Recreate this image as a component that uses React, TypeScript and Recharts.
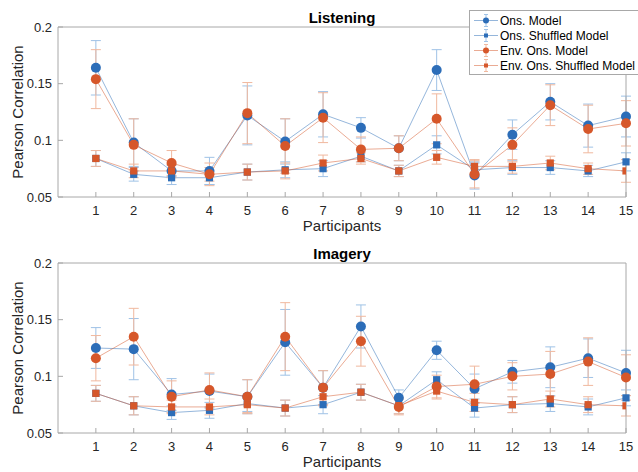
import React from 'react'
import { LineChart, Line, XAxis, YAxis, ErrorBar } from 'recharts'

// participants on the x axis
const participants = [1, 2, 3, 4, 5, 6, 7, 8, 9, 10, 11, 12, 13, 14, 15]
const yTicks = [0.05, 0.1, 0.15, 0.2]

const seriesNames = [
  'Ons. Model',
  'Ons. Shuffled Model',
  'Env. Ons. Model',
  'Env. Ons. Shuffled Model',
]

// Listening panel
const lisOns = [0.164, 0.098, 0.073, 0.073, 0.122, 0.099, 0.123, 0.111, 0.093, 0.162, 0.069, 0.105, 0.134, 0.113, 0.121]
const lisOnsErr = [0.024, 0.021, 0.005, 0.012, 0.026, 0.02, 0.02, 0.009, 0.011, 0.018, 0.012, 0.013, 0.016, 0.019, 0.018]
const lisOnsShuf = [0.084, 0.07, 0.067, 0.067, 0.072, 0.074, 0.075, 0.086, 0.073, 0.096, 0.074, 0.076, 0.076, 0.073, 0.081]
const lisOnsShufErr = [0.007, 0.006, 0.006, 0.006, 0.007, 0.007, 0.007, 0.005, 0.005, 0.008, 0.006, 0.006, 0.006, 0.005, 0.008]
const lisEnv = [0.154, 0.096, 0.08, 0.07, 0.124, 0.095, 0.12, 0.092, 0.093, 0.119, 0.07, 0.096, 0.131, 0.11, 0.115]
const lisEnvErr = [0.026, 0.023, 0.011, 0.01, 0.027, 0.024, 0.022, 0.011, 0.011, 0.022, 0.012, 0.015, 0.018, 0.021, 0.02]
const lisEnvShuf = [0.084, 0.073, 0.073, 0.07, 0.072, 0.073, 0.08, 0.084, 0.073, 0.085, 0.077, 0.077, 0.08, 0.075, 0.073]
const lisEnvShufErr = [0.007, 0.006, 0.006, 0.006, 0.007, 0.007, 0.007, 0.005, 0.005, 0.006, 0.006, 0.006, 0.006, 0.005, 0.01]

// Imagery panel
const imgOns = [0.125, 0.124, 0.084, 0.087, 0.082, 0.13, 0.09, 0.144, 0.081, 0.123, 0.089, 0.104, 0.108, 0.116, 0.103]
const imgOnsErr = [0.018, 0.027, 0.014, 0.015, 0.015, 0.029, 0.015, 0.019, 0.007, 0.008, 0.013, 0.01, 0.018, 0.017, 0.02]
const imgOnsShuf = [0.085, 0.074, 0.068, 0.07, 0.076, 0.072, 0.075, 0.086, 0.074, 0.097, 0.072, 0.075, 0.076, 0.073, 0.081]
const imgOnsShufErr = [0.007, 0.008, 0.006, 0.007, 0.007, 0.007, 0.008, 0.007, 0.007, 0.007, 0.008, 0.007, 0.007, 0.007, 0.007]
const imgEnv = [0.116, 0.135, 0.082, 0.088, 0.082, 0.135, 0.09, 0.131, 0.073, 0.091, 0.093, 0.1, 0.102, 0.113, 0.099]
const imgEnvErr = [0.02, 0.025, 0.014, 0.015, 0.015, 0.03, 0.015, 0.022, 0.007, 0.01, 0.016, 0.012, 0.02, 0.021, 0.02]
const imgEnvShuf = [0.085, 0.074, 0.073, 0.073, 0.075, 0.072, 0.082, 0.086, 0.074, 0.087, 0.077, 0.075, 0.08, 0.075, 0.074]
const imgEnvShufErr = [0.007, 0.008, 0.006, 0.007, 0.007, 0.007, 0.008, 0.007, 0.007, 0.007, 0.008, 0.007, 0.007, 0.007, 0.009]

const BLUE = '#2c6db8'
const ORANGE = '#d6572a'
const BLUE_LIGHT = '#9fc2e6'
const ORANGE_LIGHT = '#f0b89e'
const AXIS = '#a8a8a8'
const TEXT = '#262626'
const FONT = '"Liberation Sans", Arial, Helvetica, sans-serif'

const buildData = (
  ons: number[], onsE: number[], onsS: number[], onsSE: number[],
  env: number[], envE: number[], envS: number[], envSE: number[]
) =>
  participants.map((p, i) => ({
    p,
    ons: ons[i], onsE: onsE[i],
    onsS: onsS[i], onsSE: onsSE[i],
    env: env[i], envE: envE[i],
    envS: envS[i], envSE: envSE[i],
  }))

const listeningData = buildData(lisOns, lisOnsErr, lisOnsShuf, lisOnsShufErr, lisEnv, lisEnvErr, lisEnvShuf, lisEnvShufErr)
const imageryData = buildData(imgOns, imgOnsErr, imgOnsShuf, imgOnsShufErr, imgEnv, imgEnvErr, imgEnvShuf, imgEnvShufErr)

const circleDot = (color: string) => (props: any) => (
  <circle key={`c-${props.index}`} cx={props.cx} cy={props.cy} r={5} fill={color} />
)
const squareDot = (color: string) => (props: any) => (
  <rect key={`s-${props.index}`} x={props.cx - 3.6} y={props.cy - 3.6} width={7.2} height={7.2} fill={color} />
)

const W = 638
const H = 236

const Panel = ({ data }: { data: any[] }) => (
  <LineChart width={W} height={H} data={data} margin={{ top: 26, right: 11, bottom: 0, left: 0 }}>
    <XAxis
      dataKey="p"
      type="number"
      domain={[0, 15]}
      ticks={participants}
      interval={0}
      height={39}
      axisLine={{ stroke: AXIS }}
      tickLine={{ stroke: AXIS }}
      tickSize={-5}
      tickMargin={14}
      tick={{ fill: TEXT, fontSize: 13 }}
      label={{ value: 'Participants', position: 'insideBottom', offset: 5, fill: TEXT, fontSize: 15 }}
    />
    {/* box: top and right axes share the same scales */}
    <XAxis
      xAxisId="top"
      dataKey="p"
      type="number"
      orientation="top"
      domain={[0, 15]}
      allowDataOverflow
      ticks={participants}
      interval={0}
      height={1}
      axisLine={{ stroke: AXIS }}
      tickLine={{ stroke: AXIS }}
      tickSize={-5}
      tick={false}
    />
    <YAxis
      type="number"
      domain={[0.05, 0.2]}
      ticks={yTicks}
      width={58}
      axisLine={{ stroke: AXIS }}
      tickLine={{ stroke: AXIS }}
      tickSize={-5}
      tickMargin={11}
      tickFormatter={(v) => String(v)}
      tick={{ fill: TEXT, fontSize: 13 }}
      label={{
        value: 'Pearson Correlation',
        angle: -90,
        position: 'insideLeft',
        offset: 18,
        fill: TEXT,
        fontSize: 15,
        style: { textAnchor: 'middle' },
      }}
    />
    <YAxis
      yAxisId="r"
      type="number"
      orientation="right"
      domain={[0.05, 0.2]}
      allowDataOverflow
      ticks={yTicks}
      width={1}
      axisLine={{ stroke: AXIS }}
      tickLine={{ stroke: AXIS }}
      tickSize={-5}
      tick={false}
    />
    <Line dataKey="ons" name={seriesNames[0]} stroke={BLUE} strokeOpacity={0.5} strokeWidth={1}
      dot={circleDot(BLUE)} activeDot={false} isAnimationActive={false}>
      <ErrorBar dataKey="onsE" width={5} stroke={BLUE_LIGHT} strokeWidth={1} direction="y" />
    </Line>
    <Line dataKey="onsS" name={seriesNames[1]} stroke={BLUE} strokeOpacity={0.5} strokeWidth={1}
      dot={squareDot(BLUE)} activeDot={false} isAnimationActive={false}>
      <ErrorBar dataKey="onsSE" width={5} stroke={BLUE_LIGHT} strokeWidth={1} direction="y" />
    </Line>
    <Line dataKey="env" name={seriesNames[2]} stroke={ORANGE} strokeOpacity={0.5} strokeWidth={1}
      dot={circleDot(ORANGE)} activeDot={false} isAnimationActive={false}>
      <ErrorBar dataKey="envE" width={5} stroke={ORANGE_LIGHT} strokeWidth={1} direction="y" />
    </Line>
    <Line dataKey="envS" name={seriesNames[3]} xAxisId="top" yAxisId="r" stroke={ORANGE} strokeOpacity={0.5} strokeWidth={1}
      dot={squareDot(ORANGE)} activeDot={false} isAnimationActive={false}>
      <ErrorBar dataKey="envSE" width={5} stroke={ORANGE_LIGHT} strokeWidth={1} direction="y" />
    </Line>
  </LineChart>
)

const legendColors = [BLUE, BLUE, ORANGE, ORANGE]
const legendLight = [BLUE_LIGHT, BLUE_LIGHT, ORANGE_LIGHT, ORANGE_LIGHT]

const LegendBox = () => (
  <div
    style={{
      position: 'absolute',
      left: 469,
      top: 10,
      width: 180,
      height: 65,
      background: '#fff',
      border: `1px solid ${AXIS}`,
      paddingTop: 2,
      boxSizing: 'border-box',
    }}
  >
    {seriesNames.map((name, i) => (
      <div key={name} style={{ display: 'flex', alignItems: 'center', height: 15 }}>
        <svg width={30} height={15} style={{ flex: 'none' }}>
          <line x1={4} x2={28} y1={7.5} y2={7.5} stroke={legendColors[i]} strokeOpacity={0.5} />
          <line x1={16} x2={16} y1={1.5} y2={13.5} stroke={legendLight[i]} />
          <line x1={14} x2={18} y1={1.5} y2={1.5} stroke={legendLight[i]} />
          <line x1={14} x2={18} y1={13.5} y2={13.5} stroke={legendLight[i]} />
          {i % 2 === 0 ? (
            <circle cx={16} cy={7.5} r={3} fill={legendColors[i]} />
          ) : (
            <rect x={14} y={5.5} width={4} height={4} fill={legendColors[i]} />
          )}
        </svg>
        <span style={{ fontSize: 12, color: '#000', whiteSpace: 'nowrap' }}>{name}</span>
      </div>
    ))}
  </div>
)

const Titles = () => (
  <svg
    width={W}
    height={472}
    style={{ position: 'absolute', left: 0, top: 0, pointerEvents: 'none' }}
  >
    <text x={342} y={23} textAnchor="middle" fontSize={15} fontWeight="bold" fill="#000">
      Listening
    </text>
    <text x={342} y={259} textAnchor="middle" fontSize={15} fontWeight="bold" fill="#000">
      Imagery
    </text>
  </svg>
)

export default function App() {
  return (
    <div
      style={{
        position: 'absolute',
        left: 0,
        top: 0,
        width: W,
        height: 472,
        overflow: 'hidden',
        background: '#fff',
        fontFamily: FONT,
      }}
    >
      <Panel data={listeningData} />
      <Panel data={imageryData} />
      <Titles />
      <LegendBox />
    </div>
  )
}
